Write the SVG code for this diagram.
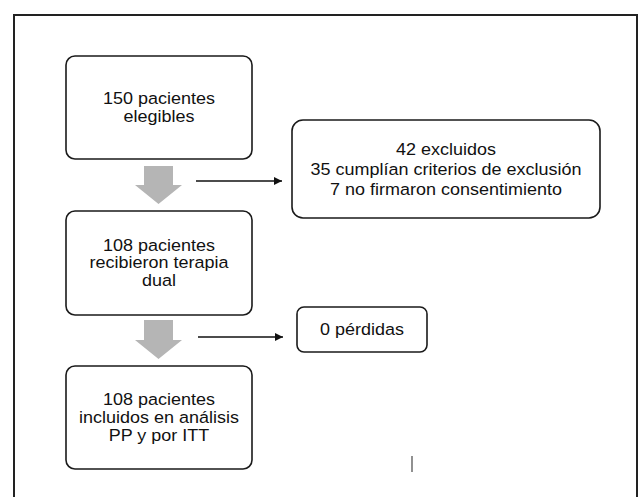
<svg xmlns="http://www.w3.org/2000/svg" width="642" height="497" viewBox="0 0 642 497">
<defs>
<style>
.box{fill:#fff;stroke:#1a1a1a;stroke-width:1.6}
.t{font-family:"Liberation Sans",Arial,sans-serif;font-size:16.5px;fill:#111;text-anchor:middle}
.big{fill:#b5b5b5}
.ln{stroke:#111;stroke-width:1.3;fill:none}
</style>
<marker id="ah" viewBox="0 0 10 10" refX="10" refY="5" markerWidth="8" markerHeight="8" markerUnits="userSpaceOnUse" orient="auto">
<path d="M0,0 L10,5 L0,10 z" fill="#111"/>
</marker>
</defs>
<rect x="0" y="0" width="642" height="497" fill="#fff"/>
<rect x="14" y="15" width="623" height="500" fill="none" stroke="#222" stroke-width="2"/>
<g id="n1"><rect class="box" x="66" y="56" width="186" height="103" rx="9"/>
<g transform="translate(159,0) scale(1.09,1)"><text class="t" x="0" y="104">150 pacientes</text><text class="t" x="0" y="121.7">elegibles</text></g></g>
<g id="n2"><rect class="box" x="292" y="120" width="308" height="98" rx="11"/>
<g transform="translate(446,0) scale(1.09,1)"><text class="t" x="0" y="155.5">42 excluidos</text><text class="t" x="0" y="175.5">35 cumplían criterios de exclusión</text><text class="t" x="0" y="195.5">7 no firmaron consentimiento</text></g></g>
<g id="n3"><rect class="box" x="66" y="211" width="186" height="104" rx="9"/>
<g transform="translate(159,0) scale(1.09,1)"><text class="t" x="0" y="250.7">108 pacientes</text><text class="t" x="0" y="268.4">recibieron terapia</text><text class="t" x="0" y="286.1">dual</text></g></g>
<g id="n4"><rect class="box" x="297" y="307" width="130" height="45" rx="7"/>
<g transform="translate(362,0) scale(1.09,1)"><text class="t" x="0" y="335.5">0 pérdidas</text></g></g>
<g id="n5"><rect class="box" x="66" y="366" width="186" height="103" rx="9"/>
<g transform="translate(159,0) scale(1.09,1)"><text class="t" x="0" y="405.5">108 pacientes</text><text class="t" x="0" y="423.2">incluidos en análisis</text><text class="t" x="0" y="441.5">PP y por ITT</text></g></g>
<g id="connectors">
<path class="big" d="M144,166 H173 V185 H182 L158.5,204 L135,185 H144 Z"/>
<path class="big" d="M144,320 H173 V340 H182 L158.5,359 L135,340 H144 Z"/>
<line class="ln" x1="196" y1="181" x2="282" y2="181" marker-end="url(#ah)"/>
<line class="ln" x1="198" y1="337" x2="283" y2="337" marker-end="url(#ah)"/>
</g>
<line x1="412" y1="456" x2="412" y2="472" stroke="#555" stroke-width="1.3"/>
</svg>
